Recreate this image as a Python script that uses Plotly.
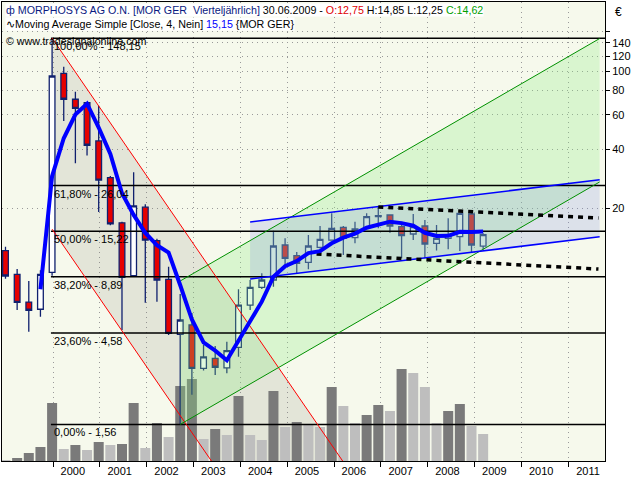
import math
import plotly.graph_objects as go

# ---------------- data (quarterly candles, MORPHOSYS AG) ----------------
quarters = [f"{y}-Q{q}" for y in range(1999, 2010) for q in range(1, 5)][:42]
open_ = [12.09, 9.15, 6.60, 6.06, 9.37, 97.9, 72.1, 69.2, 44.1, 28.6, 16.8, 9.0, 20.2, 13.6, 8.63, 4.51,
         5.04, 3.02, 3.40, 3.04, 3.87, 6.37, 7.85, 8.56, 12.93, 11.40, 10.54, 12.58, 13.71, 15.93, 14.09,
         15.74, 18.05, 18.42, 16.04, 14.72, 16.18, 13.19, 13.99, 14.26, 18.63, 12.75]
high = [12.67, 9.74, 8.46, 9.6, 148.15, 105.8, 78.8, 69.5, 66.8, 29.2, 17.0, 30.5, 20.9, 13.9, 10.0, 7.26,
        5.80, 3.98, 3.93, 4.13, 7.67, 8.56, 9.26, 15.30, 13.99, 11.9, 14.54, 16.18, 18.79, 16.18, 17.02,
        18.79, 20.3, 18.6, 17.02, 18.63, 17.36, 16.37, 17.71, 18.9, 18.9, 14.85]
low = [8.69, 6.01, 4.65, 5.55, 9.0, 55.8, 33.9, 37.1, 19.1, 16.3, 4.75, 8.9, 6.55, 6.63, 4.47, 1.56,
       2.21, 2.94, 2.79, 2.85, 3.46, 6.0, 7.7, 7.91, 9.94, 9.18, 9.71, 12.4, 13.6, 11.49, 13.19,
       15.6, 15.74, 14.95, 11.05, 13.71, 11.05, 12.1, 12.29, 12.04, 11.81, 12.25]
close = [8.97, 6.58, 5.99, 9.15, 94.8, 72.1, 64.8, 41.9, 27.8, 16.6, 8.83, 20.5, 13.7, 8.56, 4.56, 5.34,
         3.02, 3.46, 3.06, 3.72, 6.37, 7.85, 8.56, 12.78, 11.05, 10.42, 12.78, 13.83, 15.74, 13.99, 15.61,
         18.05, 18.25, 16.18, 14.43, 16.04, 13.08, 13.99, 14.54, 18.79, 12.93, 14.62]
ma4 = [None, None, None, 7.67, 29.13, 45.5, 60.2, 68.4, 51.65, 37.8, 23.78, 18.43, 14.91, 12.9, 11.83,
       8.04, 5.37, 4.10, 3.72, 3.32, 4.15, 5.25, 6.63, 8.89, 10.06, 10.70, 11.76, 12.02, 13.19, 14.09,
       14.79, 15.85, 16.48, 17.02, 16.73, 16.23, 14.93, 14.39, 14.41, 15.10, 15.06, 15.15]
volume = [1, 3, 8, 14, 58, 12, 16, 11, 19, 16, 17, 58, 13, 38, 24, 75, 82, 22, 32, 26, 65, 26, 21, 70,
          34, 39, 36, 34, 74, 55, 38, 46, 56, 50, 92, 88, 74, 38, 50, 57, 35, 27]

fib_pct = ["100,00%", "61,80%", "50,00%", "38,20%", "23,60%", "0,00%"]
fib_val = [148.15, 26.04, 15.22, 8.89, 4.58, 1.56]
fib_txt = ["148,15", "26,04", "15,22", "8,89", "4,58", "1,56"]

years = list(range(2000, 2012))
year_labels = [str(y) for y in years]
price_ticks = [20, 40, 60, 80, 100, 120, 140, 160]
price_tick_labels = ["20", "40", "60", "80", "100", "120", "140", ""]

# drawing-tool anchors: (quarter index list, price list)
red_upper = ([4, 30], [148.15, 0.82])
red_lower = ([4, 30], [15.59, 0.0863])
green_upper = ([15, 51], [8.46, 147.5])
green_lower = ([15, 51], [1.56, 27.19])
blue_upper = ([21, 51], [16.96, 27.88])
blue_lower = ([21, 51], [8.66, 14.24])
dot_upper = ([32, 50.9], [20.24, 17.79])
dot_lower = ([26.7, 50.9], [11.63, 9.74])

# ---------------- styling ----------------
FONT = "Liberation Sans, Arial, sans-serif"
NAVY = "#10206E"
xq = list(range(len(quarters)))
vol_colors = ["#BEBEBE"] + ["#7A7A7A" if volume[i] > volume[i - 1] else "#BEBEBE" for i in range(1, len(volume))]

Y_RANGE = [0.0056, 2.3558]
X_RANGE = [-0.30, 51.46]

fig = go.Figure()

def poly(a, b):
    return a[0] + b[0][::-1], a[1] + b[1][::-1]

# gray downtrend channel (main subplot, bottom layer)
gx, gy = poly(red_upper, red_lower)
fig.add_trace(go.Scatter(x=gx, y=gy, fill="toself", mode="lines", line=dict(width=0),
                         fillcolor="rgba(110,110,100,0.14)", hoverinfo="skip", xaxis="x", yaxis="y"))

# volume bars
fig.add_trace(go.Bar(x=xq, y=volume, marker=dict(color=vol_colors, line=dict(width=0)),
                     hoverinfo="skip", xaxis="x", yaxis="y2"))

# candles
fig.add_trace(go.Candlestick(
    x=xq, open=open_, high=high, low=low, close=close, xaxis="x", yaxis="y3",
    increasing=dict(fillcolor="#FFFFFF", line=dict(color=NAVY, width=1.3)),
    decreasing=dict(fillcolor="#E60000", line=dict(color=NAVY, width=1.3)),
    whiskerwidth=0, hoverinfo="skip"))

# green and blue channel fills
px_, py_ = poly(green_upper, green_lower)
fig.add_trace(go.Scatter(x=px_, y=py_, fill="toself", mode="lines", line=dict(width=0),
                         fillcolor="rgba(140,235,130,0.27)", hoverinfo="skip", xaxis="x", yaxis="y3"))
px_, py_ = poly(blue_upper, blue_lower)
fig.add_trace(go.Scatter(x=px_, y=py_, fill="toself", mode="lines", line=dict(width=0),
                         fillcolor="rgba(120,130,230,0.20)", hoverinfo="skip", xaxis="x", yaxis="y3"))

# fibonacci lines
for v in fib_val:
    fig.add_trace(go.Scatter(x=[3.9, 53], y=[v, v], mode="lines", line=dict(color="black", width=1.5),
                             hoverinfo="skip", xaxis="x", yaxis="y3"))

# channel lines
for ln, col, w in [(red_upper, "#FF0000", 1), (red_lower, "#FF0000", 1),
                   (green_upper, "#009000", 1), (green_lower, "#009000", 1),
                   (blue_upper, "#0000FF", 1.5), (blue_lower, "#0000FF", 1.5)]:
    fig.add_trace(go.Scatter(x=ln[0], y=ln[1], mode="lines", line=dict(color=col, width=w),
                             hoverinfo="skip", xaxis="x", yaxis="y3"))
for ln in (dot_upper, dot_lower):
    fig.add_trace(go.Scatter(x=ln[0], y=ln[1], mode="lines",
                             line=dict(color="black", width=3.5, dash="5px,5px"),
                             hoverinfo="skip", xaxis="x", yaxis="y3"))

# moving average
fig.add_trace(go.Scatter(x=xq, y=ma4, mode="lines", line=dict(color="#0000FF", width=4),
                         connectgaps=False, hoverinfo="skip", xaxis="x", yaxis="y3"))

# ---------------- annotations ----------------
ann = []
for p, v, t in zip(fib_pct, fib_val, fib_txt):
    ann.append(dict(x=3.95, y=math.log10(v), xref="x", yref="y", text=f"{p} - {t}", showarrow=False,
                    xanchor="left", yanchor="middle", yshift=-8, font=dict(family=FONT, size=11, color="black")))

def paper(px, py):
    return (px - 2) / 603.0, (461 - py) / 459.0

hx, hy = paper(5, 10)
ann.append(dict(x=hx, y=hy, xref="paper", yref="paper", xanchor="left", yanchor="middle", showarrow=False,
                bgcolor="white", borderpad=0,
                text=("<span style='color:#0A1A80'>ф MORPHOSYS AG O.N. [MOR GER\u00a0\u00a0Vierteljährlich]</span>"
                      " 30.06.2009 - <span style='color:#E00000'>O:12,75</span> H:14,85 L:12,25 "
                      "<span style='color:#00A000'>C:14,62</span>"),
                font=dict(family=FONT, size=10.7, color="black")))
hx, hy = paper(5, 24)
ann.append(dict(x=hx, y=hy, xref="paper", yref="paper", xanchor="left", yanchor="middle", showarrow=False,
                bgcolor="white", borderpad=0,
                text="∿Moving Average Simple [Close, 4, Nein] <span style='color:#0000FF'>15,15</span> {MOR GER}",
                font=dict(family=FONT, size=10.7, color="black")))
hx, hy = paper(4, 41)
ann.append(dict(x=hx, y=hy, xref="paper", yref="paper", xanchor="left", yanchor="middle", showarrow=False,
                text="© www.tradesignalonline.com", font=dict(family=FONT, size=10.7, color="black")))
hx, hy = paper(613, 12)
ann.append(dict(x=hx, y=hy, xref="paper", yref="paper", xanchor="left", yanchor="middle", showarrow=False,
                text="€", font=dict(family=FONT, size=12, color="black")))

year_bounds = [4.08 + 4.02 * (y - 2000) for y in years]
year_mids = [b + 1.7 for b in year_bounds]

fig.update_layout(
    width=640, height=480,
    margin=dict(l=2, r=35, t=2, b=19),
    paper_bgcolor="white", plot_bgcolor="#F6F9EC",
    showlegend=False, bargap=0.14, boxgap=0.3,
    annotations=ann,
    xaxis=dict(range=X_RANGE, showgrid=False, zeroline=False,
               tickmode="array", tickvals=year_mids, ticktext=year_labels, ticks="", ticklen=0,
               tickfont=dict(family=FONT, size=11, color="black"),
               minor=dict(tickmode="array", tickvals=year_bounds, ticks="outside", ticklen=5,
                          tickcolor="black", tickwidth=1, showgrid=True, gridcolor="#9A9A9A",
                          griddash="1px,4px", gridwidth=1),
               showline=True, mirror=True, linecolor="black", linewidth=1,
               rangeslider=dict(visible=False), fixedrange=True),
    yaxis=dict(type="log", range=Y_RANGE, side="right", tickmode="array", tickvals=price_ticks,
               ticktext=price_tick_labels, ticks="outside", ticklen=4, tickcolor="black",
               tickfont=dict(family=FONT, size=11, color="black"),
               showgrid=True, gridcolor="#9A9A9A", griddash="1px,4px", gridwidth=1, zeroline=False,
               showline=True, mirror=True, linecolor="black", linewidth=1, fixedrange=True),
    yaxis2=dict(range=[0, 459], overlaying="y", anchor="x", visible=False, fixedrange=True),
    yaxis3=dict(type="log", range=Y_RANGE, overlaying="y", anchor="x", visible=False, fixedrange=True),
)

fig.write_html("out.html", config={"displayModeBar": False},
               post_script="document.body.style.margin='0';document.body.style.padding='0';")
